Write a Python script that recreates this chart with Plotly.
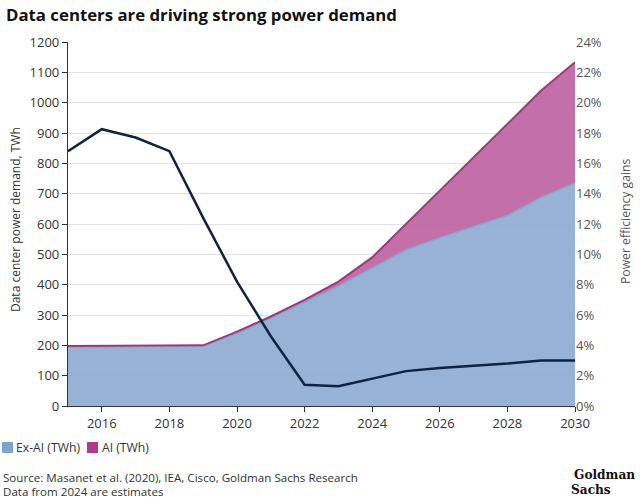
import plotly.graph_objects as go

years = list(range(2015, 2031))
ex_ai = [195, 195, 196, 197, 198, 240, 290, 342, 395, 455, 515, 555, 592, 628, 688, 735]
total = [198, 198, 199, 200, 200, 245, 295, 350, 410, 490, 600, 710, 820, 930, 1040, 1133]
ai = [t - e for t, e in zip(total, ex_ai)]
efficiency = [16.8, 18.25, 17.7, 16.8, 12.4, 8.2, 4.6, 1.4, 1.3, 1.8, 2.3, 2.5, 2.65, 2.8, 3.0, 3.0]

BLUE_FILL = "rgba(140,170,207,0.9)"
BLUE_LINE = "#86a6cc"
MAG_FILL = "rgba(190,100,163,0.92)"
MAG_LINE = "#9c3b7c"
NAVY = "#0e2341"
FONT = "Open Sans"

W, H = 640, 499
L, R, T, B = 68, 575, 42, 406


def px(x):
    return (x - L) / (R - L)


def py(y):
    return (B - y) / (B - T)


fig = go.Figure()
fig.add_trace(go.Scatter(x=years, y=ex_ai, stackgroup="s", mode="lines",
                         line=dict(color=BLUE_LINE, width=1.5), fillcolor=BLUE_FILL,
                         name="Ex-AI (TWh)", showlegend=False))
fig.add_trace(go.Scatter(x=years, y=ai, stackgroup="s", mode="lines",
                         line=dict(color=MAG_LINE, width=2), fillcolor=MAG_FILL,
                         name="AI (TWh)", showlegend=False))
fig.add_trace(go.Scatter(x=years, y=efficiency, yaxis="y2", mode="lines",
                         line=dict(color=NAVY, width=2.5), showlegend=False))

shapes = [
    dict(type="rect", xref="paper", yref="paper", x0=px(2), x1=px(13), y0=py(453), y1=py(442),
         fillcolor="#7fa3cf", line=dict(width=0)),
    dict(type="rect", xref="paper", yref="paper", x0=px(87), x1=px(98), y0=py(453), y1=py(442),
         fillcolor="#b03b8d", line=dict(width=0)),
]

txt = dict(size=11.6, color="#333", family=FONT)
LOGO = "DejaVu Serif Condensed, DejaVu Serif"
annotations = [
    dict(text="<b>Data centers are driving strong power demand</b>", x=px(4), y=py(14),
         xanchor="left", yanchor="middle",
         font=dict(family=FONT, size=16.8, color="#111")),
    dict(text="Ex-AI (TWh)", x=px(14), y=py(447.5), xanchor="left", yanchor="middle",
         font=dict(size=12.2, color="#333", family=FONT)),
    dict(text="AI (TWh)", x=px(100), y=py(447.5), xanchor="left", yanchor="middle",
         font=dict(size=12.2, color="#333", family=FONT)),
    dict(text="Source: Masanet et al. (2020), IEA, Cisco, Goldman Sachs Research",
         x=px(1), y=py(477), xanchor="left", yanchor="middle", font=txt),
    dict(text="Data from 2024 are estimates",
         x=px(1), y=py(491), xanchor="left", yanchor="middle", font=txt),
    dict(text="<b>Goldman</b>", x=px(637), y=py(474), xanchor="right", yanchor="middle",
         font=dict(family=LOGO, size=13.5, color="#111")),
    dict(text="<b>Sachs</b>", x=px(569), y=py(489), xanchor="left", yanchor="middle",
         font=dict(family=LOGO, size=13.5, color="#111")),
    dict(text="Data center power demand, TWh", x=px(15), y=py(220), textangle=-90,
         xanchor="center", yanchor="middle", font=dict(size=12, color="#333", family=FONT)),
    dict(text="Power efficiency gains", x=px(625), y=py(222), textangle=-90,
         xanchor="center", yanchor="middle", font=dict(size=12.2, color="#555", family=FONT)),
]
for a in annotations:
    a.update(xref="paper", yref="paper", showarrow=False)

fig.update_layout(
    width=W, height=H,
    margin=dict(l=L, r=W - R, t=T, b=H - B),
    paper_bgcolor="white", plot_bgcolor="white",
    font=dict(family=FONT, size=12.5, color="#333"),
    showlegend=False,
    xaxis=dict(range=[2015, 2030], tickvals=[2016, 2018, 2020, 2022, 2024, 2026, 2028, 2030],
               showgrid=False, showline=True, linecolor="#333", linewidth=1.2,
               ticks="outside", ticklen=5, tickcolor="#333", tickfont=dict(size=13)),
    yaxis=dict(range=[0, 1200], dtick=100, showgrid=True, gridcolor="#e3e3e3",
               showline=True, linecolor="#333", linewidth=1.2, ticks="outside",
               ticklen=5, tickcolor="#333", zeroline=False, tickfont=dict(size=13)),
    yaxis2=dict(range=[0, 24], dtick=2, overlaying="y", side="right", showgrid=False,
                ticksuffix="%", zeroline=False, tickfont=dict(color="#555", size=13)),
    shapes=shapes,
    annotations=annotations,
)

fig.write_html("out.html", config={"displayModeBar": False},
               post_script="document.body.style.margin='0';")
